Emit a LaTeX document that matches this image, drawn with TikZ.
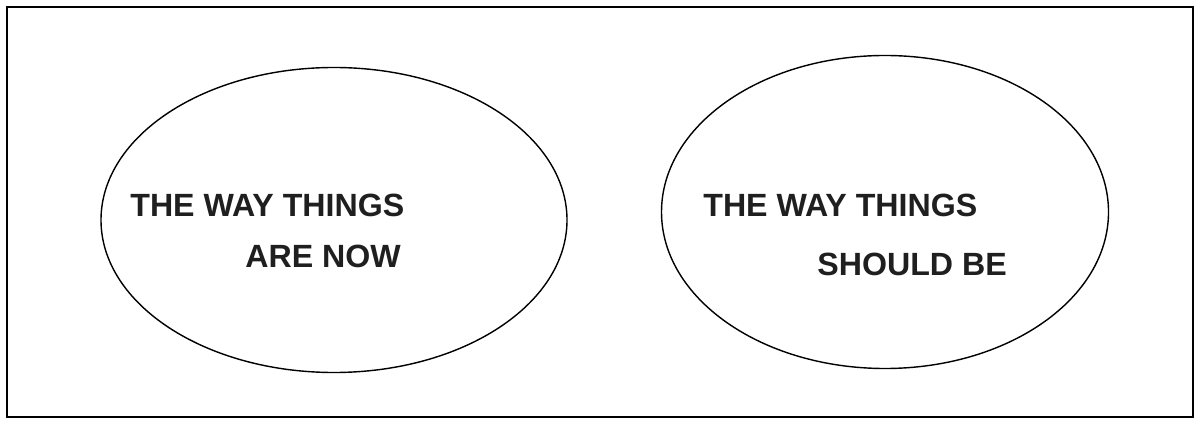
\documentclass[tikz,border=0pt]{standalone}
\usepackage{fontspec}
\setmainfont{Liberation Sans}
\usetikzlibrary{shapes.geometric}

\tikzset{
  wayset/.style={draw, ellipse, line width=0.8pt, inner sep=0pt},
  waytext/.style={anchor=base west, inner sep=0pt, text=black!88,
    font=\fontsize{18.3}{21}\selectfont\bfseries}
}

\begin{document}
\begin{tikzpicture}[x=0.2mm,y=-0.2mm]
    \useasboundingbox (0,0) rectangle (1197,421);
    \draw[line width=0.9pt] (7,7) rectangle (1193,417);
    \node[wayset, minimum width=93.2mm, minimum height=61mm] (now) at (334,220) {};
    \node[wayset, minimum width=89.4mm, minimum height=62.6mm] (should) at (885,212) {};
    \node[waytext] (nowtop) at (130,217) {THE WAY THINGS};
    \node[waytext] (nowbot) at (245,267) {ARE NOW};
    \node[waytext] (shouldtop) at (703,217) {THE WAY THINGS};
    \node[waytext] (shouldbot) at (817,276) {SHOULD BE};
\end{tikzpicture}
\end{document}
